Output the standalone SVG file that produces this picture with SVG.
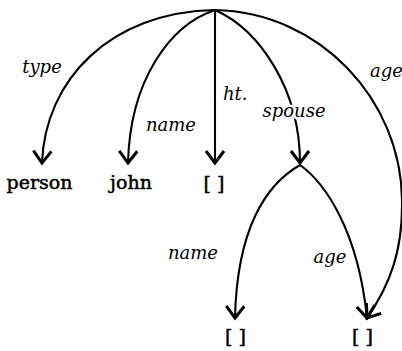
<svg xmlns="http://www.w3.org/2000/svg" width="402" height="351" viewBox="0 0 402 351">
<style>
  .edge { fill: none; stroke: #000; stroke-width: 2.1; stroke-linecap: round; }
  .lbl { font-family: "DejaVu Serif", "Liberation Serif", serif; font-style: italic; font-size: 18px; fill: #000; }
  .halo { paint-order: stroke; stroke: #fff; stroke-width: 5; stroke-linejoin: round; }
  .val { font-family: "DejaVu Serif", "Liberation Serif", serif; font-size: 19px; fill: #000; stroke: #000; stroke-width: 0.5; text-anchor: middle; }
</style>
<defs>
  <marker id="arr" markerUnits="userSpaceOnUse" markerWidth="30" markerHeight="30" viewBox="-15 -15 30 30" refX="0" refY="0" orient="auto" overflow="visible">
    <path d="M-12,-9 L0,0 L-12,9" fill="none" stroke="#000" stroke-width="3" stroke-linejoin="miter"/>
  </marker>
</defs>
<rect width="402" height="351" fill="#fff"/>
<g id="connectors">
  <path id="e-type" class="edge" d="M215,10 C110,12 45,80 42,163" marker-end="url(#arr)"/>
  <path id="e-name" class="edge" d="M215,10 C170,25 130,80 128,163" marker-end="url(#arr)"/>
  <path id="e-ht" class="edge" d="M215,10 L215,163" marker-end="url(#arr)"/>
  <path id="e-spouse" class="edge" d="M215,10 C260,30 300,90 300,163" marker-end="url(#arr)"/>
  <path id="e-age" class="edge" d="M215,10 C320,12 401,100 402,200 C403,250 390,285 367,318" marker-end="url(#arr)"/>
  <path id="e-sname" class="edge" d="M300,165 C265,185 237,230 235,318" marker-end="url(#arr)"/>
  <path id="e-sage" class="edge" d="M300,165 C325,183 358,230 367,318" marker-end="url(#arr)"/>
  <text class="lbl" x="42" y="73" text-anchor="middle">type</text>
  <text class="lbl" x="171" y="131" text-anchor="middle">name</text>
  <text class="lbl" x="223" y="100">ht.</text>
  <text class="lbl halo" x="294" y="117" text-anchor="middle">spouse</text>
  <text class="lbl" x="370" y="77" font-size="17.5">age</text>
  <text class="lbl" x="193" y="259" text-anchor="middle">name</text>
  <text class="lbl" x="330" y="263" text-anchor="middle">age</text>
</g>
<g id="node-root"></g>
<g id="node-person"><text class="val" x="39.5" y="189">person</text></g>
<g id="node-john"><text class="val" x="131" y="189">john</text></g>
<g id="node-ht"><text class="val" x="214" y="190">[ ]</text></g>
<g id="node-spouse"></g>
<g id="node-spouse-name"><text class="val" x="235.5" y="343">[ ]</text></g>
<g id="node-age"><text class="val" x="362.5" y="343">[ ]</text></g>
</svg>
